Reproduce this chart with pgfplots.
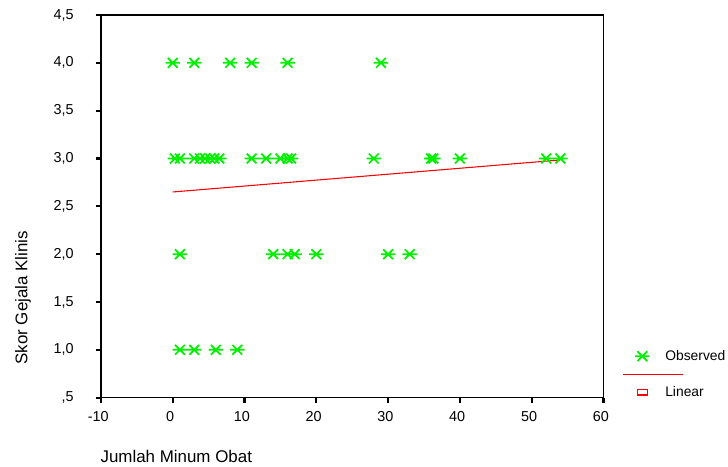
\documentclass[border=0pt]{standalone}
\usepackage{pgfplots}
\pgfplotsset{compat=1.18}
\usepackage{fontspec}
\setmainfont{Liberation Sans}

\definecolor{obsgreen}{RGB}{0,240,0}
\definecolor{fitred}{RGB}{255,0,0}

% SPSS style star: X with a horizontal bar
\pgfdeclareplotmark{xbar}{%
  \pgfpathmoveto{\pgfqpoint{-\pgfplotmarksize}{0pt}}%
  \pgfpathlineto{\pgfqpoint{\pgfplotmarksize}{0pt}}%
  \pgfpathmoveto{\pgfqpoint{-0.68\pgfplotmarksize}{-0.68\pgfplotmarksize}}%
  \pgfpathlineto{\pgfqpoint{0.68\pgfplotmarksize}{0.68\pgfplotmarksize}}%
  \pgfpathmoveto{\pgfqpoint{-0.68\pgfplotmarksize}{0.68\pgfplotmarksize}}%
  \pgfpathlineto{\pgfqpoint{0.68\pgfplotmarksize}{-0.68\pgfplotmarksize}}%
  \pgfusepathqstroke}

\begin{document}
\begin{tikzpicture}
\begin{axis}[
  scale only axis,
  width=377.25pt, height=287.25pt,
  xmin=-10, xmax=60, ymin=0.5, ymax=4.5,
  xtick={-10,0,10,20,30,40,50,60},
  ytick={0.5,1,1.5,2,2.5,3,3.5,4,4.5},
  yticklabels={{,5},{1,0},{1,5},{2,0},{2,5},{3,0},{3,5},{4,0},{4,5}},
  xtick pos=left, ytick pos=left,
  tick align=outside, major tick length=4pt,
  tick style={black, line width=1.6pt},
  axis line style={black, line width=1.2pt},
  /pgf/number format/assume math mode=true,
  ticklabel style={font=\fontsize{10.8}{12}\selectfont},
  yticklabel style={xshift=-13pt},
  xticklabel style={yshift=-3pt, xshift=-2pt},
  xlabel={Jumlah Minum Obat},
  ylabel={Skor Gejala Klinis},
  label style={font=\fontsize{12.7}{14}\selectfont},
  xlabel style={at={(axis description cs:-0.01,-0.153)}, anchor=west},
  ylabel style={at={(axis description cs:-0.155,0.261)}, anchor=center},
  legend style={draw=none, fill=none, font=\fontsize{10.4}{12}\selectfont,
    inner sep=0pt, outer sep=0pt,
    at={(axis description cs:1.046,0.131)}, anchor=north west,
    row sep=14pt},
  legend cell align=left,
]
% observed values
\addplot[only marks, mark=xbar, mark size=5.4pt,
  mark options={obsgreen, line width=1.3pt},
  legend image code/.code={
    \path[draw=none] (0pt,0pt) -- (27pt,0pt);
    \draw[draw=none, mark=xbar, mark size=5.4pt, mark options={obsgreen, draw=obsgreen, line width=1.3pt}]
      plot coordinates {(11.75pt,0pt)};}]
coordinates {
 (0,4) (3,4) (8,4) (11,4) (16,4) (29,4)
 (0.3,3) (1,3) (3,3) (3.8,3) (4.5,3) (5.2,3) (5.8,3) (6.5,3)
 (11,3) (13,3) (15,3) (16,3) (16.5,3) (28,3) (36,3) (36.3,3) (40,3) (52,3) (54,3)
 (1,2) (14,2) (16,2) (17,2) (20,2) (30,2) (33,2)
 (1,1) (3,1) (6,1) (9,1)
};
\addlegendentry{Observed}
% linear fit
\addplot[fitred, line width=0.8pt, no marks,
  legend image code/.code={
    \path[draw=none] (0pt,0pt) -- (27pt,0pt);
    \draw[fitred, line width=0.8pt, overlay] (-2.5pt,13.5pt) -- (42.5pt,13.5pt);
    \draw[fitred, line width=1.1pt] (8pt,-2.2pt) rectangle (15.5pt,2.2pt);}]
coordinates {
 (0,2.650) (10,2.712) (20,2.774) (30,2.836) (40,2.898) (54,2.985)
};
\addlegendentry{Linear}
\end{axis}
\path ([shift={(-75.75pt,-51.75pt)}]current axis.south west)
  rectangle ([shift={(93pt,11.25pt)}]current axis.north east);
\end{tikzpicture}
\end{document}
